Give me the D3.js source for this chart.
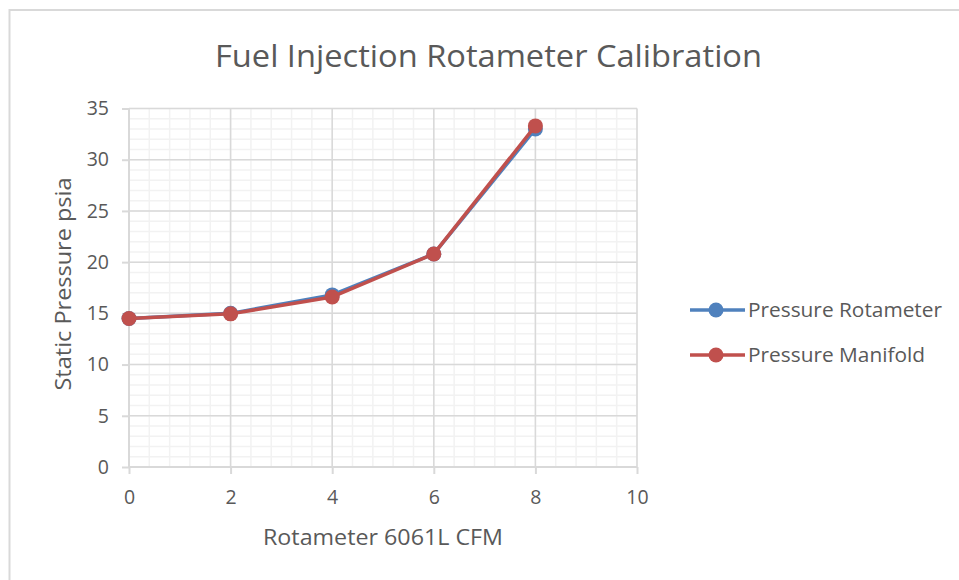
<!DOCTYPE html>
<html>
<head>
<meta charset="utf-8">
<script src="https://cdn.jsdelivr.net/npm/d3@7"></script>
<style>
  html, body { margin: 0; padding: 0; background: #fff; }
  svg { display: block; }
  text { font-family: "Open Sans", "Noto Sans", sans-serif; fill: #595959; }
</style>
</head>
<body>
<svg id="chart" width="959" height="580"></svg>
<script>
const title = "Fuel Injection Rotameter Calibration";
const xTitle = "Rotameter 6061L CFM";
const yTitle = "Static Pressure psia";
const xValues = [0, 2, 4, 6, 8];
const rotameterValues = [14.5, 15.0, 16.8, 20.8, 33.0];
const manifoldValues = [14.5, 14.95, 16.6, 20.8, 33.3];
const seriesNames = ["Pressure Rotameter", "Pressure Manifold"];
const seriesColors = ["#4F81BD", "#C0504D"];
const xTicks = [0, 2, 4, 6, 8, 10];
const yTicks = [0, 5, 10, 15, 20, 25, 30, 35];

const svg = d3.select("#chart");

// outer chart border
svg.append("rect").attr("x", 9.5).attr("y", 10).attr("width", 960).attr("height", 600)
  .attr("fill", "none").attr("stroke", "#d9d9d9").attr("stroke-width", 2);

const x = d3.scaleLinear().domain([0, 10]).range([129, 637]);
const y = d3.scaleLinear().domain([0, 35]).range([467, 108.5]);

const g = svg.append("g");

// minor gridlines
const xMinor = d3.range(0, 10.001, 0.4);
const yMinor = d3.range(0, 35.001, 1);
g.selectAll(".xminor").data(xMinor).enter().append("line")
  .attr("x1", d => x(d)).attr("x2", d => x(d)).attr("y1", y(0)).attr("y2", y(35))
  .attr("stroke", "#f2f2f2").attr("stroke-width", 1.5);
g.selectAll(".yminor").data(yMinor).enter().append("line")
  .attr("x1", x(0)).attr("x2", x(10)).attr("y1", d => y(d)).attr("y2", d => y(d))
  .attr("stroke", "#f2f2f2").attr("stroke-width", 1.5);

// major gridlines
g.selectAll(".xmajor").data(xTicks).enter().append("line")
  .attr("x1", d => x(d)).attr("x2", d => x(d)).attr("y1", y(0)).attr("y2", y(35))
  .attr("stroke", "#d9d9d9").attr("stroke-width", 1.5);
g.selectAll(".ymajor").data(yTicks).enter().append("line")
  .attr("x1", x(0)).attr("x2", x(10)).attr("y1", d => y(d)).attr("y2", d => y(d))
  .attr("stroke", "#d9d9d9").attr("stroke-width", 1.5);

// axes
const xAxis = d3.axisBottom(x).tickValues(xTicks).tickSize(7).tickPadding(16).tickFormat(d3.format("d"));
const yAxis = d3.axisLeft(y).tickValues(yTicks).tickSize(7).tickPadding(13).tickFormat(d3.format("d"));

const gx = svg.append("g").attr("transform", `translate(0,${y(0)})`).call(xAxis);
const gy = svg.append("g").attr("transform", `translate(${x(0)},0)`).call(yAxis);
[gx, gy].forEach(a => {
  a.select(".domain").attr("stroke", "#d9d9d9").attr("stroke-width", 2);
  a.selectAll(".tick line").attr("stroke", "#d9d9d9").attr("stroke-width", 2);
  a.selectAll(".tick text").attr("font-size", 19.5).attr("fill", "#595959")
    .style("font-family", '"Open Sans", sans-serif');
});
gx.select(".domain").attr("d", `M${x(0)},0H${x(10)}`);
gy.select(".domain").attr("d", `M0,${y(0)}V${y(35)}`);

// series
const series = [
  { name: seriesNames[0], color: seriesColors[0], values: rotameterValues },
  { name: seriesNames[1], color: seriesColors[1], values: manifoldValues }
];
const line = d3.line().x(d => x(d[0])).y(d => y(d[1]));
series.forEach(s => {
  const pts = xValues.map((xv, i) => [xv, s.values[i]]);
  svg.append("path").datum(pts).attr("d", line).attr("fill", "none")
    .attr("stroke", s.color).attr("stroke-width", 3.5).attr("stroke-linejoin", "round");
  svg.append("g").selectAll("circle").data(pts).enter().append("circle")
    .attr("cx", d => x(d[0])).attr("cy", d => y(d[1])).attr("r", 7.5)
    .attr("fill", s.color);
});

// title
svg.append("text").attr("x", 488.5).attr("y", 67).attr("text-anchor", "middle")
  .attr("font-size", 31).attr("textLength", 547).attr("lengthAdjust", "spacingAndGlyphs")
  .text(title);

// axis titles
svg.append("text").attr("x", 383).attr("y", 545).attr("text-anchor", "middle")
  .attr("font-size", 21).attr("textLength", 240).attr("lengthAdjust", "spacingAndGlyphs")
  .text(xTitle);
svg.append("text").attr("transform", "translate(71,284) rotate(-90)").attr("text-anchor", "middle")
  .attr("font-size", 21).attr("textLength", 213).attr("lengthAdjust", "spacingAndGlyphs")
  .text(yTitle);

// legend
const legendY = [310, 355];
const legendW = [194, 177];
series.forEach((s, i) => {
  const lg = svg.append("g");
  lg.append("line").attr("x1", 690).attr("x2", 745).attr("y1", legendY[i]).attr("y2", legendY[i])
    .attr("stroke", s.color).attr("stroke-width", 3.5);
  lg.append("circle").attr("cx", 716).attr("cy", legendY[i]).attr("r", 7.5).attr("fill", s.color);
  lg.append("text").attr("x", 748).attr("y", legendY[i] + 7).attr("font-size", 20)
    .attr("textLength", legendW[i]).attr("lengthAdjust", "spacingAndGlyphs")
    .text(s.name);
});
</script>
</body>
</html>
